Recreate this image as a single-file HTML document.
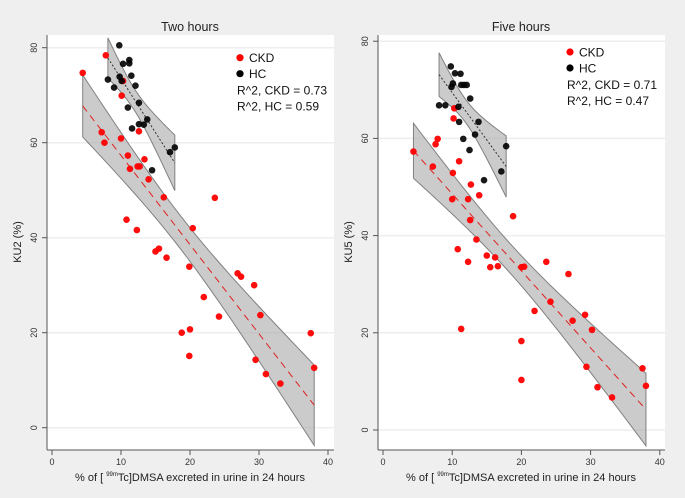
<!DOCTYPE html>
<html><head><meta charset="utf-8">
<style>
html,body{margin:0;padding:0;background:#efefef;}
svg{display:block;font-family:"Liberation Sans",Arial,sans-serif;}
</style></head>
<body>
<svg id="chart" width="685" height="498" viewBox="0 0 685 498">
<rect x="0" y="0" width="685" height="498" fill="#efefef"/>
</svg>
<script>
// ---- Data: Two hours (KU2) ----
const ckdX2 = [4.45,7.8,10.3,10.1,7.2,7.6,10.0,12.6,11.0,11.3,12.4,12.7,13.4,14.0,16.2,23.6,10.8,12.3,20.4,15.0,15.5,16.6,19.9,26.9,27.4,29.3,22.0,24.2,30.2,18.8,20.0,19.9,37.5,29.5,31.0,33.1,38.0];
const ckdY2 = [74.7,78.4,73.0,69.9,62.2,60.0,60.9,62.4,57.3,54.5,55.0,55.0,56.5,52.3,48.5,48.4,43.8,41.6,42.0,37.1,37.7,35.8,33.9,32.5,31.8,30.0,27.5,23.4,23.7,20.0,20.7,15.1,19.9,14.3,11.3,9.3,12.6];
const hcX2 = [9.75,11.2,11.2,10.3,9.8,10.1,11.5,8.1,9.0,12.1,12.6,11.0,13.8,13.3,12.6,11.6,17.8,17.1,14.5];
const hcY2 = [80.5,77.4,76.7,76.6,73.9,73.0,74.1,73.3,71.6,72.0,68.4,67.4,64.9,63.8,63.9,63.0,59.0,58.0,54.2];
// ---- Data: Five hours (KU5) ----
const ckdX5 = [4.4,7.2,7.6,7.9,10.3,10.2,11.0,10.1,10.0,12.3,12.7,13.9,12.6,18.8,13.5,10.8,12.3,15.0,16.2,15.5,16.6,23.6,20.0,20.4,26.8,24.2,21.9,27.4,29.2,30.2,11.3,20.0,20.0,29.4,37.5,38.0,31.0,33.1];
const ckdY5 = [57.3,54.2,58.8,59.9,66.2,64.1,55.3,52.9,47.5,47.5,50.5,48.3,43.2,44.0,39.2,37.2,34.6,35.9,35.5,33.5,33.7,34.6,33.5,33.6,32.1,26.4,24.5,22.5,23.7,20.6,20.8,18.3,10.3,13.0,12.7,9.1,8.8,6.7];
const hcX5 = [9.8,10.4,11.2,11.3,11.7,12.1,10.1,9.9,12.6,8.1,9.0,10.9,11.0,13.8,13.3,11.6,17.8,12.5,17.1,14.6];
const hcY5 = [74.8,73.4,73.3,71.0,71.0,71.0,71.3,70.6,68.2,66.8,66.8,66.5,63.4,63.4,60.8,59.9,58.4,57.6,53.2,51.4];
const xTicks = [0,10,20,30,40];
const yTicks = [0,20,40,60,80];

const NS = "http://www.w3.org/2000/svg";
const svg = document.getElementById('chart');
function mk(tag, attrs, parent){ const e=document.createElementNS(NS,tag); for(const k in attrs) e.setAttribute(k,attrs[k]); (parent||svg).appendChild(e); return e; }

function ols(xs, ys){
  const n=xs.length; const mx=xs.reduce((a,b)=>a+b,0)/n; const my=ys.reduce((a,b)=>a+b,0)/n;
  let sxx=0,sxy=0; for(let i=0;i<n;i++){sxx+=(xs[i]-mx)**2; sxy+=(xs[i]-mx)*(ys[i]-my);}
  const b=sxy/sxx, a=my-b*mx; let sse=0; for(let i=0;i<n;i++) sse+=(ys[i]-a-b*xs[i])**2;
  const s=Math.sqrt(sse/(n-2)); const t = n>30?2.03:2.11;
  return {a,b,mx,sxx,s,n,t,min:Math.min(...xs),max:Math.max(...xs)};
}

function panel(cfg){
  const g = mk('g',{});  
  const X = v => cfg.x0 + v*cfg.kx;
  const Y = v => cfg.y0 - v*cfg.ky;
  const plot = mk('rect',{x:cfg.left,y:35,width:cfg.right-cfg.left,height:450-35,fill:'#ffffff'},g);
   
  // grid
  yTicks.forEach(v=>{
    const l=mk('line',{x1:cfg.left,x2:cfg.right,y1:Y(v),y2:Y(v),stroke:'#eeeeee','stroke-width':1.5},g);
     
  });
  // axes
  const ya=mk('line',{x1:cfg.left,x2:cfg.left,y1:35,y2:450,stroke:'#555','stroke-width':1},g);
   
  const xa=mk('line',{x1:cfg.left,x2:cfg.right,y1:450,y2:450,stroke:'#555','stroke-width':1},g);
   
  xTicks.forEach(v=>{
    mk('line',{x1:X(v),x2:X(v),y1:450,y2:455,stroke:'#555'},g);
    const t=mk('text',{x:X(v),y:465,'font-size':9,fill:'#333','text-anchor':'middle'},g);
    t.textContent=v;  
  });
  yTicks.forEach(v=>{
    mk('line',{x1:cfg.left-5,x2:cfg.left,y1:Y(v),y2:Y(v),stroke:'#555'},g);
    const t=mk('text',{x:cfg.left-10,y:Y(v),'font-size':9,fill:'#333','text-anchor':'middle',transform:`rotate(-90 ${cfg.left-10} ${Y(v)})`},g);
    t.textContent=v;  
  });
  // fits
  function band(xs, ys, lineColor, dash, nm){
    const f=ols(xs,ys); const N=40; const up=[],lo=[],ln=[];
    for(let i=0;i<=N;i++){
      const x=f.min+(f.max-f.min)*i/N; const yh=f.a+f.b*x;
      const se=f.s*Math.sqrt(1/f.n+(x-f.mx)**2/f.sxx);
      up.push([X(x),Y(yh+f.t*se)]); lo.push([X(x),Y(yh-f.t*se)]); ln.push([X(x),Y(yh)]);
    }
    const pts=up.concat(lo.reverse()).map(p=>p.join(',')).join(' ');
    const p=mk('polygon',{points:pts,fill:'#a8a8a8','fill-opacity':0.6,stroke:'#808080','stroke-width':1},g);
     
    const l=mk('polyline',{points:ln.map(q=>q.join(',')).join(' '),fill:'none',stroke:lineColor,'stroke-width':1,'stroke-dasharray':dash},g);
     
  }
  band(cfg.ckdX,cfg.ckdY,'#e02020','7,5','ckd');
  band(cfg.hcX,cfg.hcY,'#333','2,2','hc');
  cfg.ckdX.forEach((v,i)=>{
    const c=mk('circle',{cx:X(v),cy:Y(cfg.ckdY[i]),r:3.3,fill:'#ff0000','fill-opacity':0.95},g);
     
  });
  cfg.hcX.forEach((v,i)=>{
    const c=mk('circle',{cx:X(v),cy:Y(cfg.hcY[i]),r:3.3,fill:'#000','fill-opacity':0.9},g);
     
  });
  // title
  const ti=mk('text',{x:cfg.cx,y:31,'font-size':12.5,fill:'#222','text-anchor':'middle'},g);
  ti.textContent=cfg.title;  
  const yt=mk('text',{x:cfg.ylx,y:242,'font-size':11,fill:'#222','text-anchor':'middle',transform:`rotate(-90 ${cfg.ylx} 242)`},g);
  yt.textContent=cfg.ylab;  
  const xt=mk('text',{x:cfg.cx,y:481,'font-size':11,fill:'#222','text-anchor':'middle'},g);
  xt.innerHTML='% of [ <tspan font-size="6" dy="-5">99m</tspan><tspan dy="5">Tc]DMSA excreted in urine in 24 hours</tspan>';
   
  // legend
  const lg=mk('g',{},g);  
  const e1=mk('circle',{cx:cfg.lx,cy:cfg.ly,r:3.6,fill:'#ff0000'},lg);
   
  const t1=mk('text',{x:cfg.lx+9,y:cfg.ly+4.5,'font-size':12,fill:'#111'},lg); t1.textContent='CKD';
   
  const e2=mk('circle',{cx:cfg.lx,cy:cfg.ly+16,r:3.6,fill:'#000'},lg);
   
  const t2=mk('text',{x:cfg.lx+9,y:cfg.ly+20.5,'font-size':12,fill:'#111'},lg); t2.textContent='HC';
   
  const t3=mk('text',{x:cfg.lx-3,y:cfg.ly+37,'font-size':12,fill:'#111'},lg); t3.textContent=cfg.r1;
   
  const t4=mk('text',{x:cfg.lx-3,y:cfg.ly+53,'font-size':12,fill:'#111'},lg); t4.textContent=cfg.r2;
   
}

panel({name:'two-hours-panel',title:'Two hours',ylab:'KU2 (%)',left:47,right:334,x0:52,kx:6.9,y0:427.7,ky:4.75,cx:190,ylx:21,
  ckdX:ckdX2,ckdY:ckdY2,hcX:hcX2,hcY:hcY2,lx:240,ly:57.7,r1:'R^2, CKD = 0.73',r2:'R^2, HC = 0.59'});
panel({name:'five-hours-panel',title:'Five hours',ylab:'KU5 (%)',left:378,right:665,x0:383,kx:6.92,y0:430,ky:4.86,cx:521,ylx:352,
  ckdX:ckdX5,ckdY:ckdY5,hcX:hcX5,hcY:hcY5,lx:570,ly:52,r1:'R^2, CKD = 0.71',r2:'R^2, HC = 0.47'});
</script>
</body></html>
